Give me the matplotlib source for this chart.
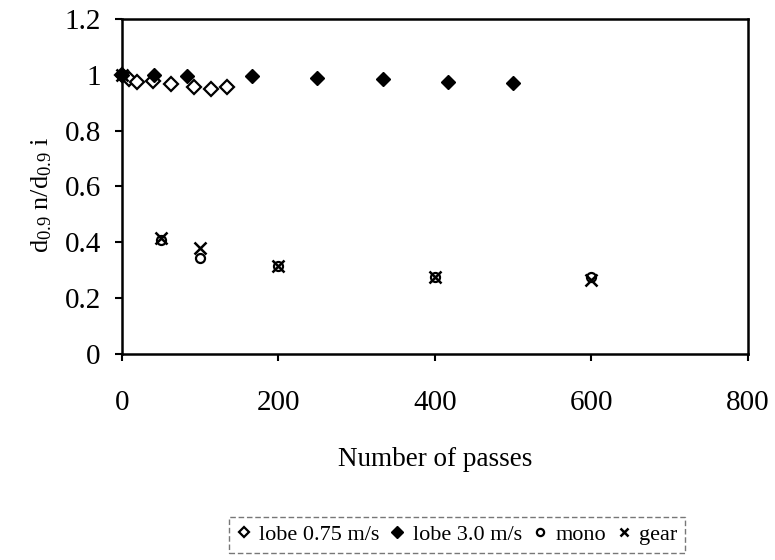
import matplotlib.pyplot as plt
import numpy as np

# data
lobe075_x = [0, 9, 20, 40, 63, 93, 114, 134]
lobe075_y = [1.0, 0.985, 0.975, 0.978, 0.968, 0.955, 0.948, 0.955]

lobe30_x = [0, 41.7, 83.3, 166.7, 250, 333.3, 416.7, 500]
lobe30_y = [1.0, 1.0, 0.995, 0.995, 0.99, 0.985, 0.975, 0.97]

mono_x = [0, 50, 100, 200, 400, 600]
mono_y = [1.0, 0.41, 0.345, 0.315, 0.275, 0.275]

gear_x = [0, 50, 100, 200, 400, 600]
gear_y = [1.0, 0.415, 0.38, 0.315, 0.275, 0.265]

plt.rcParams['font.family'] = ['Liberation Serif', 'DejaVu Serif']
plt.rcParams['mathtext.fontset'] = 'custom'
plt.rcParams['mathtext.rm'] = 'Liberation Serif'
plt.rcParams['mathtext.it'] = 'Liberation Serif'

fig = plt.figure(figsize=(7.75, 5.6), dpi=100)
ax = fig.add_axes([0.157, 0.368, 0.808, 0.598])

ax.plot(lobe075_x, lobe075_y, 'D', ms=7, mfc='white', mec='black', mew=1.6,
        clip_on=False, label='lobe 0.75 m/s', zorder=3)
ax.plot(lobe30_x, lobe30_y, 'D', ms=7.5, color='black',
        clip_on=False, label='lobe 3.0 m/s', zorder=4)
ax.plot(mono_x, mono_y, 'o', ms=6.5, mfc='none', mec='black', mew=1.6,
        clip_on=False, label='mono', zorder=3)
ax.plot(gear_x, gear_y, 'x', ms=8, color='black', mew=1.8,
        clip_on=False, label='gear', zorder=3)

ax.set_xlim(0, 800)
ax.set_ylim(0, 1.2)
ax.set_xticks([0, 200, 400, 600, 800])
ax.set_yticks([0, 0.2, 0.4, 0.6, 0.8, 1.0, 1.2])
ax.set_yticklabels(['0', '0.2', '0.4', '0.6', '0.8', '1', '1.2'])
ax.tick_params(direction='out', length=5, width=1.5, labelsize=21, pad=10)
ax.tick_params(axis='x', pad=21)
for s in ax.spines.values():
    s.set_linewidth(1.8)

ax.set_xlabel('Number of passes', fontsize=19.5, labelpad=22)
ax.set_ylabel('d$_{0.9}$ n/d$_{0.9}$ i', fontsize=19)
ax.yaxis.set_label_coords(-0.108, 0.475)

leg = fig.legend(loc='center', bbox_to_anchor=(0.59, 0.045), ncol=4,
                 fontsize=16, frameon=True, fancybox=False,
                 handlelength=0.6, handletextpad=0.4, columnspacing=0.5,
                 borderpad=0.35, markerscale=0.8)
leg.get_frame().set_edgecolor('#555555')
leg.get_frame().set_linestyle((0, (4, 2)))
leg.get_frame().set_linewidth(1.0)

fig.savefig('out.png', dpi=100)
